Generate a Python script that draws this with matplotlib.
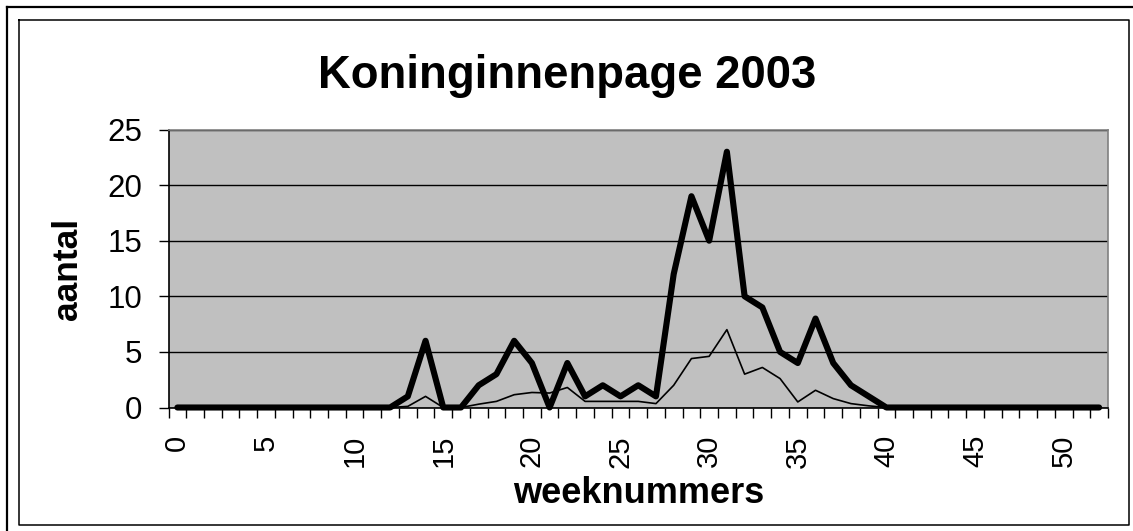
import matplotlib
matplotlib.use("Agg")
import matplotlib.pyplot as plt
from matplotlib.lines import Line2D

plt.rcParams['font.family'] = ['Liberation Sans', 'DejaVu Sans']

weeks = list(range(0, 53))
totaal = [0] * 13 + [1, 6, 0, 0, 2, 3, 6, 4, 0, 4, 1, 2, 1, 2, 1, 12, 19, 15, 23,
                     10, 9, 5, 4, 8, 4, 2, 1] + [0] * 13
gemiddeld = [0] * 13 + [0.1, 1.0, 0, 0, 0.3, 0.55, 1.15, 1.35, 1.3, 1.8, 0.55, 0.55,
                        0.55, 0.55, 0.35, 2.0, 4.4, 4.6, 7.0, 3.0, 3.6, 2.6, 0.5,
                        1.55, 0.8, 0.35, 0.15] + [0] * 13
yticks = [0, 5, 10, 15, 20, 25]
xticks = list(range(0, 51, 5))
title = "Koninginnenpage 2003"
xlabel = "weeknummers"
ylabel = "aantal"

W, H = 1133, 531
fig = plt.figure(figsize=(W / 100, H / 100), dpi=100)
fig.patch.set_facecolor('white')

L, R, T, B = 168.5, 1108, 129.5, 407.5
ax = fig.add_axes([L / W, 1 - B / H, (R - L) / W, (B - T) / H])
ax.set_facecolor('#c0c0c0')

ax.plot(weeks, totaal, color='black', lw=4.4, solid_capstyle='round',
        solid_joinstyle='round', zorder=3, clip_on=False)
ax.plot(weeks, gemiddeld, color='black', lw=1.2, zorder=4, clip_on=False)

ax.set_xlim(-0.5, 52.5)
ax.set_ylim(0, 25)

ax.set_yticks(yticks)
ax.set_yticklabels([str(v) for v in yticks])
ax.set_xticks(xticks)
ax.set_xticklabels([str(v) for v in xticks], rotation=90)
ax.set_xticks([w - 0.5 for w in weeks] + [52.5], minor=True)

ax.tick_params(axis='y', which='major', direction='out', length=7.2, width=1,
               color='black', labelsize=22.5, pad=11.5)
ax.tick_params(axis='x', which='major', length=0, labelsize=21, pad=19.8)
ax.tick_params(axis='x', which='minor', direction='out', length=7.2, width=1,
               color='black')

ax.yaxis.grid(True, color='black', lw=1.0)
ax.set_axisbelow(True)
for s in ['left', 'bottom']:
    ax.spines[s].set_color('black')
    ax.spines[s].set_linewidth(1.2)
for s in ['top', 'right']:
    ax.spines[s].set_color('#808080')
    ax.spines[s].set_linewidth(1.2)

fig.text(567.5 / W, 1 - 88 / H, title, ha='center', va='baseline',
         fontsize=32.8, fontweight='bold')
fig.text(639 / W, 1 - 503 / H, xlabel, ha='center', va='baseline',
         fontsize=26, fontweight='bold')
fig.text(68 / W, 1 - 268.5 / H, ylabel, ha='center', va='center',
         rotation=90, fontsize=25.5, fontweight='bold')

# outer frame (top and left visible)
fig.add_artist(Line2D([6.5 / W, 6.5 / W], [1 - 7 / H, 0], transform=fig.transFigure,
                      color='black', lw=1.6))
fig.add_artist(Line2D([6.5 / W, 1], [1 - 7 / H, 1 - 7 / H], transform=fig.transFigure,
                      color='black', lw=1.6))
# inner frame
xs = [18.5, 1128.5, 1128.5, 18.5, 18.5]
ys = [19.5, 19.5, 524.5, 524.5, 19.5]
fig.add_artist(Line2D([x / W for x in xs], [1 - y / H for y in ys],
                      transform=fig.transFigure, color='black', lw=1.1))

fig.savefig('out.png', dpi=100)
